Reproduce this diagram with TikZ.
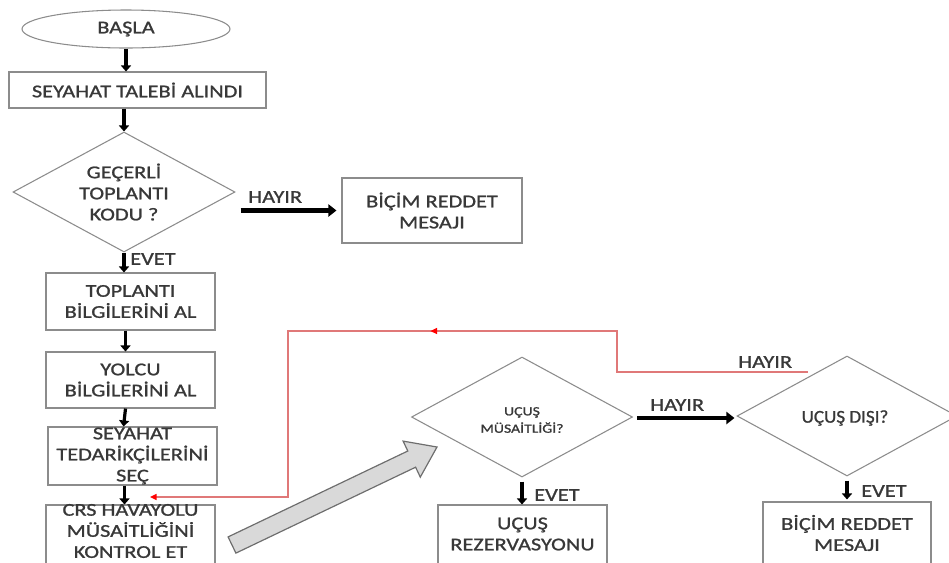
\documentclass[tikz,border=0pt]{standalone}
\usepackage{fontspec}
\setmainfont{Carlito}[FakeStretch=1.24, FakeBold=1.1]
\newfontfamily\plainf{Carlito}[FakeStretch=1.06, FakeBold=1.1]
\usetikzlibrary{shapes.geometric,arrows.meta,calc,decorations.markings}
\definecolor{txtc}{HTML}{383838}
\definecolor{linec}{HTML}{8C8C8C}
\definecolor{redc}{HTML}{E07878}
\definecolor{arrfill}{HTML}{D9D9D9}
\definecolor{arrdraw}{HTML}{6E6E6E}
\tikzset{
  every node/.style={text=txtc, font=\fontsize{13.5pt}{15.8pt}\selectfont},
  pbox/.style 2 args={draw=linec, line width=0.8pt, minimum width=#1*0.75pt, minimum height=#2*0.75pt, inner sep=0pt, align=center},
  pdia/.style 2 args={draw=linec, line width=0.8pt, shape=diamond, minimum width=#1*0.75pt, minimum height=#2*0.75pt, inner sep=0pt},
  pell/.style 2 args={draw=linec, line width=0.8pt, shape=ellipse, minimum width=#1*0.75pt, minimum height=#2*0.75pt, inner sep=0pt},
  ptext/.style={align=center, inner sep=0pt},
  vflow/.style={draw=black, line width=2.4pt, -{Triangle[length=4.5pt,width=7.5pt]}},
  hflow/.style={draw=black, line width=3.2pt, -{Triangle[length=6pt,width=9pt]}},
  backline/.style={draw=redc, line width=1.1pt, -{Triangle[length=5pt,width=4.5pt,fill=red,color=red]}},
  lbl/.style={inner sep=0pt, anchor=west}
}
\begin{document}
\begin{tikzpicture}[x=0.75pt,y=-0.75pt]
\useasboundingbox (0,0) rectangle (949,562);
\clip (0,0) rectangle (949,562);

% left column
\node[pell={208}{38}] (basla) at (126,29) {BAŞLA};
\node[pbox={257}{36}] (talep) at (137.5,90) {SEYAHAT TALEBİ ALINDI};
\node[pdia={222}{120}] (d1) at (124,192) {};
\node[ptext] (d1t) at (d1) {GEÇERLİ\\TOPLANTI\\KODU ?};
\node[pbox={180}{65}] (r1) at (432,210.5) {BİÇİM REDDET\\MESAJI};
\node[pbox={169}{57}] (b2) at (130.5,301.5) {TOPLANTI\\BİLGİLERİNİ AL};
\node[pbox={169}{56}] (b3) at (130.5,380) {YOLCU\\BİLGİLERİNİ AL};
\node[pbox={169}{58}] (b4) at (132.5,456) {};
\node[ptext] (b4t) at (132.5,456) {SEYAHAT\\TEDARİKÇİLERİNİ\\SEÇ};
\node[pbox={169}{80}] (b5) at (130.5,545) {};
\node[ptext] (b5t) at (130.5,531) {CRS HAVAYOLU\\MÜSAİTLİĞİNİ\\KONTROL ET};

% right part
\node[pdia={221}{120}] (d2) at (522,417) {};
\node[ptext, font=\fontsize{9.5pt}{13pt}\selectfont] (d2t) at (522,420) {UÇUŞ\\MÜSAİTLİĞİ?};
\node[pbox={169}{80}] (b6) at (522.5,545) {};
\node[ptext] (b6t) at (522.5,534) {UÇUŞ\\REZERVASYONU};
\node[pdia={220}{120}] (d3) at (847,416) {};
\node[ptext, font=\plainf\fontsize{13.5pt}{15.8pt}\selectfont] (d3t) at (845,418) {UÇUŞ DIŞI?};
\node[pbox={168}{80}] (b7) at (847,542) {};
\node[ptext] (b7t) at (847,533) {BİÇİM REDDET\\MESAJI};

% labels
\node[lbl] (h1) at (248,197) {HAYIR};
\node[lbl] (e1) at (130,259) {EVET};
\node[lbl] (h2) at (650,405) {HAYIR};
\node[lbl] (h3) at (738,362) {HAYIR};
\node[lbl] (e2) at (534,495) {EVET};
\node[lbl] (e3) at (861,491) {EVET};

% black flow arrows
\draw[vflow] (basla.south) -- (basla.south |- talep.north);
\draw[vflow] (talep.south -| d1.north) -- (d1.north);
\draw[vflow] (d1.south) -- (d1.south |- b2.north);
\draw[vflow] ($(b2.south)+(-5,0)$) -- ($(b2.south |- b3.north)+(-5,0)$);
\draw[vflow] ($(b3.south)+(-5,0)$) -- ($(b3.south |- b4.north)+(-7,0)$);
\draw[vflow] ($(b4.south)+(-8,0)$) -- ($(b4.south |- b5.north)+(-8,0)$);
\draw[hflow] ($(d1.east |- r1.west)+(5,0)$) -- ($(r1.west)+(-5,0)$);
\draw[vflow] ($(d2.south)+(0,4)$) -- (d2.south |- b6.north);
\draw[hflow] ($(d2.east)+(4,1)$) -- ($(d3.west)+(-2,2)$);
\draw[vflow] ($(d3.south)+(0,4)$) -- ($(d3.south |- b7.north)+(0,-2)$);

% red return connector
\coordinate (rs) at (808,372);
\coordinate (re) at (150,497);
\draw[backline, postaction={decorate, decoration={markings, mark=at position 0.484 with {\arrow{Triangle[length=5pt,width=4.5pt,fill=red,color=red]}}}}]
  (rs) -- (617,372) -- (617,331) -- (288,331) -- (288,497) -- (re);

% big gray arrow
\draw[fill=arrfill, draw=arrdraw, line width=0.9pt, line join=miter]
  (235.9,553.1) -- (228.1,536.9) -- (407.8,451.0) -- (403.1,441.1) -- (437,447)
  -- (420.3,477.1) -- (415.6,467.2) -- cycle;
\end{tikzpicture}
\end{document}
